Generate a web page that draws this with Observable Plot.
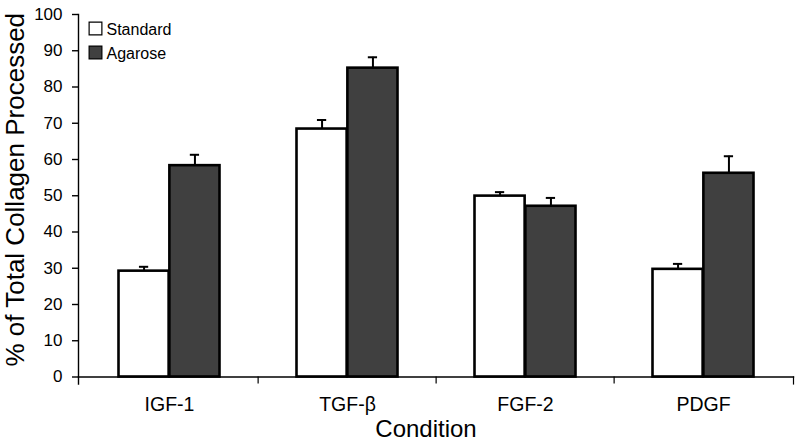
<!DOCTYPE html>
<html>
<head>
<meta charset="utf-8">
<script src="https://cdn.jsdelivr.net/npm/d3@7"></script>
<script src="https://cdn.jsdelivr.net/npm/@observablehq/plot@0.6"></script>
<style>
  html, body { margin: 0; padding: 0; background: #fff; }
  #chart svg { display: block; }
</style>
</head>
<body>
<div id="chart"></div>
<script>
// ---- Data ----
const conditions = ["IGF-1", "TGF-\u03b2", "FGF-2", "PDGF"];
const series = ["Standard", "Agarose"];
const standardValues = [29.2, 68.4, 49.9, 29.7];
const standardErrors = [1.2, 2.5, 1.1, 1.5];
const agaroseValues = [58.3, 85.2, 47.1, 56.2];
const agaroseErrors = [3.0, 3.0, 2.3, 4.7];
const yTicks = [0, 10, 20, 30, 40, 50, 60, 70, 80, 90, 100];
const seriesColors = ["#ffffff", "#404040"];

const standard = conditions.map((c, i) => ({condition: c, value: standardValues[i], err: standardErrors[i]}));
const agarose = conditions.map((c, i) => ({condition: c, value: agaroseValues[i], err: agaroseErrors[i]}));

// ---- Layout ----
const W = 800, H = 443;
const mL = 78, mR = 7, mT = 14, mB = 66.5;
const bw = (W - mL - mR) / conditions.length;   // band width
const outerPad = 38.5;                             // space between band edge and bar group
const barW = bw / 2 - outerPad;
const stdCenter = outerPad + barW / 2;             // from band start
const agaCenter = bw / 2 + barW / 2;
const capHalf = 5;
const font = "'Liberation Sans', Arial, Helvetica, sans-serif";

function errorMarks(data, center) {
  return [
    Plot.ruleX(data, {x: "condition", y1: "value", y2: d => d.value + d.err, dx: center - bw / 2, stroke: "#000", strokeWidth: 2}),
    Plot.tickY(data, {x: "condition", y: d => d.value + d.err, insetLeft: center - capHalf, insetRight: bw - center - capHalf, stroke: "#000", strokeWidth: 2})
  ];
}

const legendMarks = series.flatMap((s, i) => [
  Plot.dot([s], {frameAnchor: "top-left", dx: 17, dy: 14 + i * 24, symbol: "square", r: 7.2, fill: seriesColors[i], stroke: "#000", strokeWidth: 1.2}),
  Plot.text([s], {frameAnchor: "top-left", dx: 28, dy: 15 + i * 24, text: d => d, textAnchor: "start", lineAnchor: "middle", fontSize: 16, fill: "#000"})
]);

const chart = Plot.plot({
  width: W,
  height: H,
  marginLeft: mL,
  marginRight: mR,
  marginTop: mT,
  marginBottom: mB,
  style: {fontFamily: font, background: "#fff", color: "#000"},
  x: {type: "band", domain: conditions, padding: 0, label: null},
  y: {domain: [0, 100], label: null},
  marks: [
    // bars
    Plot.barY(standard, {x: "condition", y: "value", insetLeft: outerPad, insetRight: bw / 2, fill: seriesColors[0], stroke: "#000", strokeWidth: 2.6}),
    Plot.barY(agarose, {x: "condition", y: "value", insetLeft: bw / 2, insetRight: outerPad, fill: seriesColors[1], stroke: "#000", strokeWidth: 2.6}),
    ...errorMarks(standard, stdCenter),
    ...errorMarks(agarose, agaCenter),
    // axes lines
    Plot.frame({anchor: "left", insetBottom: -7, stroke: "#000", strokeWidth: 1.4}),
    Plot.frame({anchor: "bottom", stroke: "#000", strokeWidth: 1.4}),
    Plot.frame({anchor: "right", insetTop: H - mT - mB, insetBottom: -7, stroke: "#000", strokeWidth: 1.2}),
    // category separators below axis
    Plot.ruleX(conditions.slice(1), {x: d => d, dx: -bw / 2, insetTop: H - mT - mB, insetBottom: -7, stroke: "#000", strokeWidth: 1.2}),
    // y axis ticks and labels
    Plot.axisY({ticks: yTicks, tickSize: 6, tickPadding: 10, fontSize: 17, label: null, stroke: "#000", strokeWidth: 1.4}),
    // x axis labels
    Plot.axisX({tickSize: 0, tickPadding: 20, fontSize: 19.5, label: null}),
    // axis titles
    Plot.text(["% of Total Collagen Processed"], {frameAnchor: "left", dx: -63, dy: -6, rotate: -90, textAnchor: "middle", lineAnchor: "middle", text: d => d, fontSize: 26, fill: "#000"}),
    Plot.text(["Condition"], {frameAnchor: "bottom", dx: -10, dy: 52, lineAnchor: "middle", text: d => d, fontSize: 24, fill: "#000"}),
    // legend
    ...legendMarks
  ]
});

document.getElementById("chart").append(chart);
</script>
</body>
</html>
